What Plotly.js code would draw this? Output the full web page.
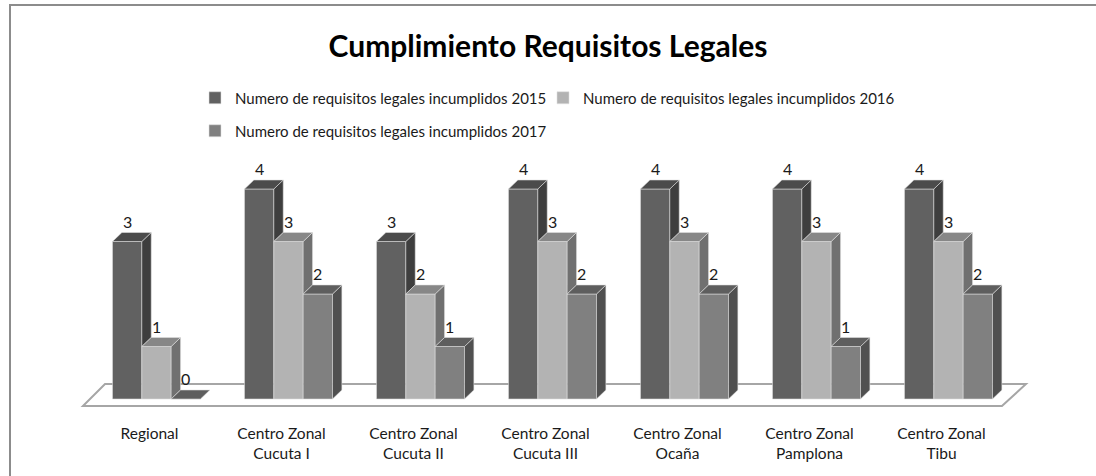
<!DOCTYPE html>
<html><head><meta charset="utf-8">
<script src="https://cdn.plot.ly/plotly-3.0.1.min.js"></script>
<style>html,body{margin:0;padding:0;background:#fff}#chart{width:1096px;height:476px}</style>
</head><body><div id="chart"></div>
<script>
// ---- data ----
const categories = ["Regional","Centro Zonal Cucuta I","Centro Zonal Cucuta II","Centro Zonal Cucuta III","Centro Zonal Ocaña","Centro Zonal Pamplona","Centro Zonal Tibu"];
const tickLabels = ["Regional","Centro Zonal<br>Cucuta I","Centro Zonal<br>Cucuta II","Centro Zonal<br>Cucuta III","Centro Zonal<br>Ocaña","Centro Zonal<br>Pamplona","Centro Zonal<br>Tibu"];
const seriesNames = ["Numero de requisitos legales incumplidos 2015","Numero de requisitos legales incumplidos 2016","Numero de requisitos legales incumplidos 2017"];
const values2015 = [3,4,3,4,4,4,4];
const values2016 = [1,3,2,3,3,3,3];
const values2017 = [0,2,1,2,2,1,2];

// ---- styles ----
const FONT = 'Lato, "Noto Sans", sans-serif';
const TXT = 15.5;
const LEG = 15;
const frontColors = ['#616161','#b3b3b3','#808080'];
const topColors   = ['#4b4b4b','#878787','#5e5e5e'];
const sideColors  = ['#3e3e3e','#707070','#505050'];
const edgeColor = 'rgba(225,225,225,0.7)';

const series = [values2015, values2016, values2017];
const nS = series.length;
const xIdx = categories.map((c,i)=>i);
const BARGAP = 1/3;
const barW = (1-BARGAP)/nS;
// depth of the pseudo-3D effect in axis units (~9px each way)
const DX = 9.4/132, DY = 9/52.5;
const legendIds = ['legend','legend2','legend3'];

const traces = series.map((vals,j)=>({
  type:'bar', x:xIdx, y:vals, name:seriesNames[j],
  marker:{color:frontColors[j], line:{color:edgeColor, width:0.8}},
  legend: legendIds[j],
  hoverinfo:'skip'
}));

const shapes = [];
// outer chart border
shapes.push({type:'rect', xref:'paper', yref:'paper', x0:-10/1056, x1:1.2, y0:-0.5, y1:415/270,
  line:{color:'#8c8c8c', width:2}, fillcolor:'rgba(0,0,0,0)', layer:'below'});
// floor
const fl = {fx0:-0.557, fx1:xIdx.length-1+0.405, bx0:-0.390, bx1:xIdx.length-1+0.587, fy:-0.133, by:0.286};
shapes.push({type:'path', xref:'x', yref:'y', layer:'below',
  path:`M${fl.fx0},${fl.fy} L${fl.fx1},${fl.fy} L${fl.bx1},${fl.by} L${fl.bx0},${fl.by} Z`,
  fillcolor:'#ffffff', line:{color:'#a6a6a6', width:2}});

const annotations = [];
xIdx.forEach(i=>{
  for(let j=0;j<nS;j++){
    const h = series[j][i];
    const c = i + (j-(nS-1)/2)*barW;
    const L = c - barW/2, R = c + barW/2;
    const lower = j<nS-1 ? Math.min(series[j+1][i], h) : 0;
    if(lower < h){
      shapes.push({type:'path', xref:'x', yref:'y', layer:'above',
        path:`M${R},${lower} L${R+DX},${lower+DY} L${R+DX},${h+DY} L${R},${h} Z`,
        fillcolor:sideColors[j], line:{color:edgeColor, width:0.8}});
    }
    shapes.push({type:'path', xref:'x', yref:'y', layer:'above',
      path:`M${L},${h} L${R},${h} L${R+DX},${h+DY} L${L+DX},${h+DY} Z`,
      fillcolor:topColors[j], line:{color:edgeColor, width:0.8}});
    annotations.push({x:c, y:h+DY, xref:'x', yref:'y', text:String(h), showarrow:false,
      yanchor:'bottom', font:{family:FONT, size:16, color:'#1a1a1a'}});
  }
});

function legendAt(px, py){
  return {orientation:'h', x:(px-20)/1056, xanchor:'left', y:(420-py)/270, yanchor:'middle',
    font:{family:FONT, size:LEG, color:'#1a1a1a'}, bgcolor:'rgba(0,0,0,0)'};
}

const layout = {
  width:1096, height:476,
  margin:{l:20, r:20, t:150, b:56},
  paper_bgcolor:'#ffffff', plot_bgcolor:'rgba(0,0,0,0)',
  font:{family:FONT, size:TXT, color:'#1a1a1a'},
  title:{text:'<b>Cumplimiento Requisitos Legales</b>', x:0.5, xanchor:'center', y:1-46/476, yanchor:'middle',
    font:{family:FONT, size:30, color:'#000'}},
  barmode:'group', bargap:BARGAP, bargroupgap:0,
  xaxis:{range:[-1.034, 6.966], tickvals:xIdx, ticktext:tickLabels, showgrid:false, zeroline:false,
    showline:false, ticks:'', ticklabelshift:-7, ticklabelstandoff:2, tickfont:{family:FONT, size:TXT, color:'#1a1a1a'}, fixedrange:true},
  yaxis:{range:[-0.4, 4.743], visible:false, fixedrange:true},
  showlegend:true,
  legend:legendAt(195, 98),
  legend2:legendAt(543, 98),
  legend3:legendAt(195, 131),
  shapes:shapes, annotations:annotations
};

Plotly.newPlot('chart', traces, layout, {displayModeBar:false, staticPlot:true});
</script>
</body></html>
